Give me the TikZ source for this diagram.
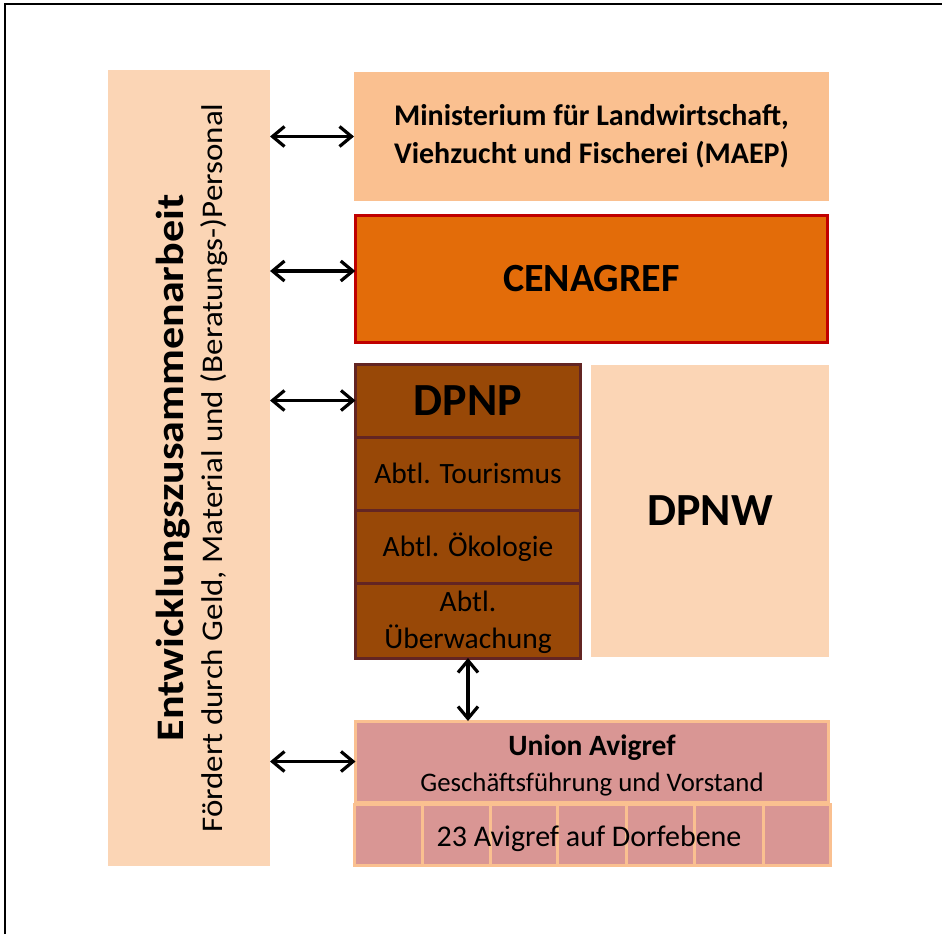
\documentclass[tikz,border=0pt]{standalone}
\usepackage{fontspec}
\setmainfont{Carlito}
\usetikzlibrary{arrows.meta}
\definecolor{peach}{HTML}{FBD5B5}
\definecolor{apricot}{HTML}{FAC090}
\definecolor{orng}{HTML}{E36C09}
\definecolor{dred}{HTML}{C00000}
\definecolor{brwn}{HTML}{984807}
\definecolor{dbrwn}{HTML}{632523}
\definecolor{rose}{HTML}{D99694}
\begin{document}
\begin{tikzpicture}[x=1pt,y=-1pt,
  blk/.style={rectangle, inner sep=0pt, outer sep=0pt, align=center,
    font=\fontsize{29.5}{36.7}\selectfont},
  dpnprow/.style={blk, fill=brwn, draw=dbrwn, line width=3pt, minimum width=225pt},
  cell/.style={blk, fill=rose, draw=apricot, line width=3pt, minimum height=60.5pt},
  arr/.style={{Straight Barb[length=12pt,width=20pt]}-{Straight Barb[length=12pt,width=20pt]}, line width=3.2pt, black},
  bigbold/.style={font=\bfseries\fontsize{46}{50}\selectfont}
]
\useasboundingbox (0,0) rectangle (942,934);
\fill[white] (0,0) rectangle (942,934);
% frame
\draw[line width=2pt, black] (4.5,934) -- (4.5,4.5) -- (942,4.5);

% left column
\node[blk, fill=peach, minimum width=162pt, minimum height=796pt] (coop) at (189,468) {};
\node[rotate=90, anchor=base, inner sep=0pt, font=\bfseries\fontsize{39}{42}\selectfont] (coopT) at (183,468) {\scalebox{1.13}[1]{Entwicklungszusammenarbeit}};
\node[rotate=90, anchor=base, inner sep=0pt, font=\fontsize{30}{36}\selectfont] (coopS) at (222,468) {\scalebox{1.1}[1]{Fördert durch Geld, Material und (Beratungs-)Personal}};

% MAEP
\node[blk, fill=apricot, minimum width=475pt, minimum height=129pt,
  font=\bfseries\fontsize{30}{38}\selectfont] (maep) at (591.5,136.5)
  {Ministerium für Landwirtschaft,\\Viehzucht und Fischerei (MAEP)};

% CENAGREF
\node[blk, fill=orng, draw=dred, line width=3pt, minimum width=472.5pt, minimum height=127pt,
  font=\bfseries\fontsize{40}{44}\selectfont] (cena) at (591.5,279) {CENAGREF};

% DPNP column
\node[dpnprow, minimum height=73pt, bigbold] (dpnp) at (468,400.5) {DPNP};
\node[dpnprow, minimum height=73.5pt] (tour) at (468,473.75) {Abtl. Tourismus};
\node[dpnprow, minimum height=73pt] (oeko) at (468,547) {Abtl. Ökologie};
\node[dpnprow, minimum height=74.5pt] (ueber) at (468,620.75) {};
\node[inner sep=0pt, anchor=base, font=\fontsize{29.5}{36}\selectfont] (uebT1) at (468,611.7) {Abtl.};
\node[inner sep=0pt, anchor=base, font=\fontsize{29.5}{36}\selectfont] (uebT2) at (468,648) {Überwachung};

% DPNW
\node[blk, fill=peach, minimum width=238pt, minimum height=292pt, bigbold] (dpnw) at (710,511) {DPNW};

% Union Avigref
\node[blk, fill=rose, draw=apricot, line width=3pt, minimum width=473pt, minimum height=81pt] (union) at (592,761.5) {};
\node[inner sep=0pt, anchor=base, font=\bfseries\fontsize{29.5}{36}\selectfont] (unionT) at (592,755) {Union Avigref};
\node[inner sep=0pt, anchor=base, font=\fontsize{26.8}{32}\selectfont] (unionS) at (592,791.7) {Geschäftsführung und Vorstand};
\node[cell, minimum width=68pt] (c1) at (388,835) {};
\node[cell, minimum width=68pt] (c2) at (456,835) {};
\node[cell, minimum width=67pt] (c3) at (523.5,835) {};
\node[cell, minimum width=69pt] (c4) at (591.5,835) {};
\node[cell, minimum width=68pt] (c5) at (660,835) {};
\node[cell, minimum width=69pt] (c6) at (728.5,835) {};
\node[cell, minimum width=67pt] (c7) at (796.5,835) {};
\node[inner sep=0pt, anchor=base, font=\fontsize{30}{36}\selectfont] (dorf) at (589,846.7) {23 Avigref auf Dorfebene};

% connectors
\coordinate (cenaL) at ([yshift=8pt]cena.west);
\draw[arr] (coop.east |- maep.west) -- (maep.west);
\draw[arr] (coop.east |- cenaL) -- (cenaL);
\draw[arr] (coop.east |- dpnp.west) -- (dpnp.west);
\draw[arr] (coop.east |- union.west) -- (union.west);
\draw[arr] (ueber.south) -- (ueber.south |- union.north);
\end{tikzpicture}
\end{document}
